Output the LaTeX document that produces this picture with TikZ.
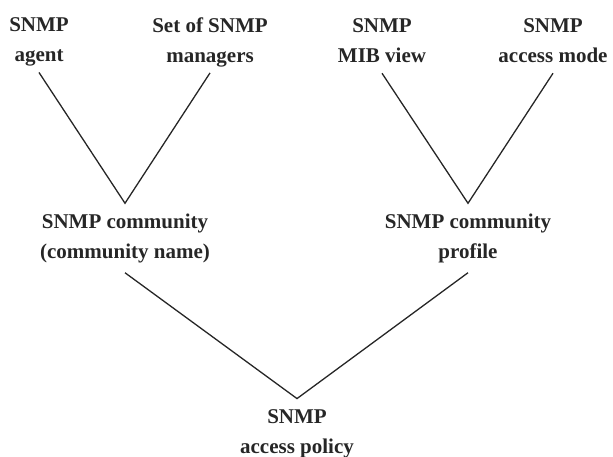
\documentclass[tikz,border=0pt]{standalone}
\usepackage{fontspec}
\setmainfont{Liberation Serif}
\begin{document}
\begin{tikzpicture}[x=1pt,y=-1pt,
  lbl/.style={inner sep=0pt, align=center, font=\bfseries\fontsize{21}{30}\selectfont, text=black!85},
  link/.style={draw=black!85, line width=1.3pt, line join=miter}]
\useasboundingbox (0,0) rectangle (613,457);
\node[lbl] (agent) at (39,42) {SNMP\\agent};
\node[lbl] (mgr) at (210,42) {Set of SNMP\\managers};
\node[lbl] (mib) at (382,41) {SNMP\\MIB view};
\node[lbl] (mode) at (553,41) {SNMP\\access mode};
\node[lbl] (comm) at (125,238) {SNMP community\\(community name)};
\node[lbl] (prof) at (468,238) {SNMP community\\profile};
\node[lbl] (pol) at (297,434) {SNMP\\access policy};
\draw[link] ([yshift=-6pt]agent.south) -- ([yshift=10pt]comm.north) -- ([yshift=-6pt]mgr.south);
\draw[link] ([yshift=-10pt]mib.south) -- ([yshift=10pt]prof.north) -- ([yshift=-10pt]mode.south);
\draw[link] ([yshift=-10pt]comm.south) -- ([yshift=11pt]pol.north) -- ([yshift=-10pt]prof.south);
\end{tikzpicture}
\end{document}
